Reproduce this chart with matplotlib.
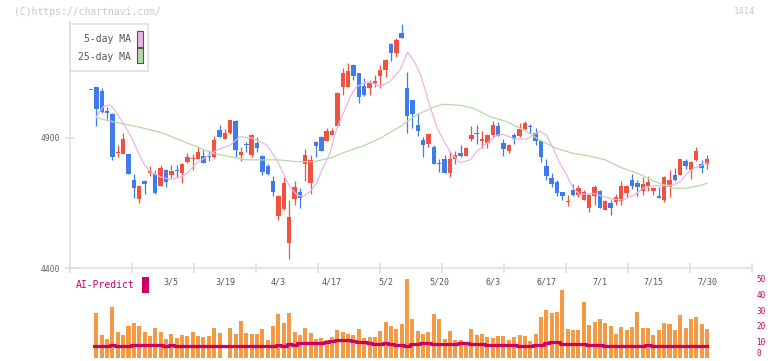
import numpy as np
import matplotlib
matplotlib.use("Agg")
import matplotlib.pyplot as plt
import matplotlib.transforms as mtransforms
from matplotlib.patches import Rectangle

W, H = 772, 361

# daily prices, oldest first (bar 0 is the lone dash at the left)
opens = [5084, 5098, 5082, 5004, 4992, 4842, 4840, 4837, 4739, 4666,
         4735, 4764, 4762, 4717, 4777, 4758, 4775, 4766, 4808, 4820,
         4821, 4831, 4829, 4825, 4931, 4898, 4921, 4966, 4835, 4878,
         4836, 4882, 4832, 4792, 4735, 4601, 4627, 4498, 4667, 4691,
         4801, 4728, 4885, 4903, 4890, 4912, 4948, 5098, 5098, 5181,
         5149, 5100, 5094, 5113, 5140, 5162, 5262, 5228, 5303, 5091,
         5046, 4950, 4892, 4878, 4867, 4803, 4819, 4767, 4818, 4842,
         4832, 4896, 4917, 4887, 4880, 4912, 4946, 4881, 4851, 4912,
         4907, 4935, 4946, 4918, 4889, 4792, 4745, 4730, 4692, 4655,
         4700, 4681, 4662, 4632, 4678, 4696, 4625, 4650, 4654, 4658,
         4690, 4739, 4728, 4696, 4716, 4696, 4677, 4662, 4712, 4758,
         4758, 4812, 4777, 4816, 4800, 4800]
highs = [5084, 5098, 5092, 5018, 4995, 4873, 4921, 4840, 4762, 4716,
         4739, 4792, 4777, 4795, 4780, 4798, 4798, 4802, 4841, 4837,
         4867, 4853, 4853, 4908, 4949, 4936, 4971, 4968, 4866, 4885,
         4914, 4905, 4836, 4800, 4754, 4680, 4751, 4662, 4735, 4707,
         4858, 4835, 4887, 4909, 4939, 4939, 5078, 5168, 5187, 5183,
         5151, 5131, 5123, 5142, 5181, 5202, 5264, 5284, 5339, 5155,
         5048, 4998, 4905, 4921, 4873, 4819, 4835, 4850, 4850, 4872,
         4866, 4946, 4950, 4927, 4914, 4966, 4962, 4896, 4875, 4918,
         4958, 4966, 4954, 4937, 4891, 4819, 4767, 4739, 4694, 4681,
         4723, 4719, 4700, 4683, 4719, 4700, 4660, 4662, 4684, 4735,
         4718, 4763, 4739, 4749, 4754, 4710, 4712, 4753, 4777, 4785,
         4821, 4819, 4810, 4867, 4816, 4835]
lows = [5084, 4948, 4995, 4972, 4816, 4828, 4838, 4760, 4671, 4651,
        4686, 4754, 4686, 4715, 4713, 4745, 4750, 4728, 4805, 4777,
        4819, 4803, 4813, 4823, 4903, 4896, 4916, 4827, 4813, 4848,
        4828, 4848, 4759, 4759, 4678, 4586, 4623, 4436, 4641, 4632,
        4735, 4686, 4825, 4849, 4888, 4910, 4946, 5064, 5096, 5123,
        5034, 5063, 5066, 5098, 5091, 5136, 5198, 5213, 5284, 4919,
        4940, 4909, 4825, 4867, 4799, 4771, 4765, 4751, 4800, 4828,
        4830, 4890, 4878, 4860, 4860, 4905, 4907, 4832, 4844, 4878,
        4905, 4931, 4921, 4873, 4809, 4739, 4713, 4677, 4662, 4640,
        4678, 4672, 4660, 4616, 4642, 4630, 4623, 4605, 4642, 4642,
        4675, 4704, 4677, 4681, 4696, 4681, 4669, 4654, 4675, 4735,
        4756, 4781, 4744, 4812, 4766, 4781]
closes = [5084, 5012, 5000, 4998, 4825, 4844, 4898, 4763, 4707, 4716,
          4722, 4773, 4689, 4785, 4732, 4773, 4772, 4800, 4827, 4824,
          4846, 4805, 4826, 4892, 4905, 4918, 4969, 4853, 4846, 4874,
          4912, 4863, 4771, 4763, 4694, 4677, 4727, 4596, 4710, 4671,
          4835, 4816, 4869, 4851, 4925, 4927, 5073, 5150, 5158, 5140,
          5059, 5066, 5113, 5119, 5162, 5200, 5228, 5277, 5286, 4986,
          4992, 4925, 4873, 4916, 4801, 4800, 4767, 4819, 4835, 4832,
          4863, 4912, 4914, 4898, 4912, 4950, 4909, 4857, 4873, 4898,
          4935, 4958, 4943, 4890, 4825, 4755, 4723, 4690, 4677, 4657,
          4681, 4708, 4692, 4681, 4712, 4632, 4658, 4632, 4672, 4716,
          4716, 4716, 4713, 4723, 4731, 4708, 4671, 4751, 4739, 4739,
          4819, 4792, 4808, 4850, 4785, 4819]

volume = [0, 28.3, 14.5, 11.7, 32.1, 16.1, 14.5, 20.1, 21.8, 20.1,
          16.1, 13.8, 18.7, 15.9, 11.7, 14.7, 12.6, 14.3, 13.8, 16.1,
          13.6, 13.0, 13.6, 18.7, 15.5, 0, 18.7, 14.9, 23.1, 15.5,
          14.9, 14.9, 18.0, 11.1, 19.9, 27.5, 21.8, 28.1, 16.1, 14.5,
          18.7, 15.5, 11.7, 12.4, 11.1, 13.0, 17.6, 16.1, 15.1, 14.5,
          18.0, 12.4, 13.0, 13.0, 16.8, 22.4, 19.9, 18.0, 21.2, 49.5,
          24.3, 16.8, 14.9, 16.1, 27.5, 24.3, 11.7, 16.8, 11.1, 11.1,
          9.8, 18.0, 14.3, 14.9, 13.0, 12.4, 13.6, 13.6, 11.1, 13.2,
          14.3, 13.6, 10.5, 14.9, 25.6, 30.0, 28.1, 28.7, 42.6, 18.0,
          17.4, 17.4, 35.0, 20.6, 22.4, 24.3, 21.8, 19.9, 14.9, 19.3,
          17.4, 19.3, 28.7, 18.7, 18.7, 14.3, 17.4, 21.8, 21.2, 17.4,
          26.9, 18.7, 24.3, 25.6, 21.2, 18.0]

ai_predict = [np.nan, 7.1, 7.1, 7.1, 7.7, 7.1, 7.1, 7.1, 8.0, 7.7,
              7.7, 7.7, 7.7, 7.7, 7.1, 7.7, 7.1, 7.1, 7.1, 7.1,
              7.1, 7.1, 7.1, 7.1, 7.1, 7.1, 7.1, 7.1, 7.1, 7.1,
              7.1, 7.1, 7.1, 7.1, 7.1, 7.7, 7.1, 8.4, 7.7, 9.2,
              9.2, 9.2, 9.2, 9.2, 9.8, 10.5, 11.1, 11.1, 11.1, 10.5,
              9.8, 9.8, 9.2, 8.6, 8.6, 9.2, 8.6, 7.7, 7.7, 7.1,
              8.4, 8.4, 9.0, 9.0, 8.4, 8.6, 8.6, 8.6, 8.6, 9.2,
              9.2, 8.4, 8.4, 8.4, 7.7, 7.7, 7.7, 7.7, 7.7, 7.7,
              7.1, 7.1, 7.1, 7.7, 7.7, 9.0, 9.8, 9.8, 8.6, 8.6,
              8.6, 8.6, 8.6, 7.7, 7.7, 7.7, 7.1, 7.1, 7.1, 7.1,
              7.1, 7.1, 7.1, 7.1, 7.7, 7.1, 7.1, 7.1, 7.1, 7.1,
              7.1, 7.1, 7.1, 7.1, 7.1, 7.1]

# moving averages (bar position, price)
ma5_pos = [1, 2.3, 3.5, 4.2, 6, 7.3, 8.5, 9.8, 11, 12.9, 14.7, 16.6, 17.9,
           19.7, 21.6, 23.5, 26, 27.8, 30.3, 32.8, 34.7, 35.9, 37.1, 38.4,
           39.6, 40.9, 42.1, 43.4, 44.6, 45.8, 47.1, 48.4, 49.6, 51.5, 52.7,
           54, 55.8, 57.7, 59.1, 60.2, 61.4, 62.4, 63.3, 64.5, 65.8, 67, 68.9,
           70.8, 72, 73.9, 75.9, 77, 78.3, 79.5, 81.4, 82.6, 83.8, 85, 86.3,
           87.5, 88.8, 90, 91.2, 92.5, 93.8, 95.6, 97.5, 99.4, 101.4, 103.2,
           105, 106.9, 108.7, 110, 111.2, 112.5, 113.7, 115]
ma5 = [4982, 5021, 5027, 5014, 4957, 4912, 4860, 4803, 4771, 4751, 4741,
       4749, 4764, 4803, 4828, 4854, 4873, 4905, 4899, 4873, 4816, 4764,
       4713, 4681, 4675, 4694, 4726, 4790, 4841, 4931, 4995, 5059, 5098,
       5117, 5110, 5098, 5117, 5162, 5230, 5200, 5149, 5085, 5021, 4944,
       4892, 4848, 4805, 4816, 4848, 4880, 4912, 4914, 4903, 4896, 4896,
       4912, 4925, 4912, 4860, 4803, 4758, 4707, 4684, 4684, 4687, 4675,
       4664, 4662, 4681, 4709, 4717, 4717, 4719, 4732, 4762, 4784, 4792,
       4803]
ma25_pos = [1, 4, 7, 10, 13.5, 16.6, 19.7, 22.8, 26, 29, 32, 35, 38.4, 41.5,
            44.6, 47.7, 50.8, 54, 57.7, 60.8, 63.9, 65.8, 68.9, 71.4, 74.5,
            77.6, 80.7, 83.8, 86.9, 90, 93, 96, 99, 102.5, 105.6, 108.7,
            111.2, 113.7, 115]
ma25 = [4978, 4963, 4950, 4937, 4918, 4892, 4867, 4841, 4828, 4816, 4816,
        4816, 4809, 4809, 4822, 4848, 4869, 4899, 4944, 4989, 5018, 5030,
        5026, 5014, 4982, 4963, 4931, 4892, 4860, 4841, 4831, 4816, 4786,
        4760, 4730, 4707, 4707, 4717, 4726]

date_labels = ["3/5", "3/19", "4/3", "4/17", "5/2", "5/20",
               "6/3", "6/17", "7/1", "7/15", "7/30"]
first_label_bar = 15
label_step = 10

RED = "#F05240"
BLUE = "#3F7CEB"
ORANGE = "#F29A45"
MAGENTA = "#CC0066"
PINK = "#E9B5E9"
GREEN = "#B5DBA5"
GRID = "#E0E0E0"

plt.rcParams["font.family"] = "DejaVu Sans Mono"


def fx(px):
    return px / W


def fy(py):
    return 1 - py / H


fig = plt.figure(figsize=(W / 100, H / 100), dpi=100)

# price panel
ax = fig.add_axes([fx(70), fy(268), 682 / W, (268 - 22) / H])
x = np.arange(len(closes))
o = np.array(opens)
c = np.array(closes)
up = c >= o
cols = np.where(up, RED, BLUE)

ax.vlines(x, lows, highs, colors=cols, lw=0.9)
body_lo = np.minimum(o, c)
body_h = np.maximum(np.abs(c - o), 4)
ax.bar(x, body_h, bottom=body_lo, width=0.82, color=cols, linewidth=0)

ax.plot(ma25_pos, ma25, color=GREEN, lw=0.9)
ax.plot(ma5_pos, ma5, color=PINK, lw=0.9)

xmin, xmax = -3.92, 123.4
ax.set_xlim(xmin, xmax)
ax.set_ylim(4400, 4400 + (268 - 22) / 0.26)
ax.set_yticks([4400, 4900])
ax.set_xticks(np.linspace(xmin, xmax, 12))
ax.set_xticklabels([])
for s in ["top", "right"]:
    ax.spines[s].set_visible(False)
for s in ["bottom", "left"]:
    ax.spines[s].set_color(GRID)
    ax.spines[s].set_linewidth(1.2)
ax.tick_params(axis="x", direction="inout", length=7, width=1.2, color=GRID)
ax.tick_params(axis="y", direction="inout", length=7, width=1.2, color=GRID,
               labelsize=5.8, labelcolor="#666666", pad=3.5)

# volume panel
axv = fig.add_axes([fx(70), 0, 682 / W, (H - 268) / H], sharex=ax)
axv.bar(x, volume, width=0.75, color=ORANGE, linewidth=0)
axv.step(x, ai_predict, where="mid", color=MAGENTA, lw=2.3)
axv.set_ylim(-(361 - 357.7) / 1.588, (357.7 - 268) / 1.588)
axv.set_yticks([0, 10, 20, 30, 40, 50])
axv.yaxis.tick_right()
axv.tick_params(axis="y", length=0, labelsize=5.5, labelcolor=MAGENTA, pad=3)
axv.tick_params(axis="x", length=0, labelbottom=False)
for s in axv.spines.values():
    s.set_visible(False)
axv.patch.set_alpha(0)
# keep the "0" inside the picture
axv.get_yticklabels()[0].set_va("bottom")

trans = mtransforms.blended_transform_factory(axv.transData, axv.transAxes)
for k, lab in enumerate(date_labels):
    axv.text(first_label_bar + k * label_step, (361 - 282) / 93, lab,
             transform=trans, ha="center", va="center", fontsize=6,
             color="#555555")

# legend box
fig.patches.append(Rectangle((fx(70), fy(71)), 78 / W, 47 / H,
                             transform=fig.transFigure, fill=False,
                             edgecolor=GRID, lw=1.2))
fig.text(fx(131), fy(39.5), "5-day MA", ha="right", va="center",
         fontsize=7, color="#555555")
fig.text(fx(131), fy(56.5), "25-day MA", ha="right", va="center",
         fontsize=7, color="#555555")
fig.patches.append(Rectangle((fx(136.5), fy(46.5)), 6 / W, 15 / H,
                             transform=fig.transFigure, facecolor=PINK,
                             edgecolor="#555555", lw=0.8))
fig.patches.append(Rectangle((fx(136.5), fy(63.3)), 6 / W, 15 / H,
                             transform=fig.transFigure, facecolor=GREEN,
                             edgecolor="#555555", lw=0.8))

# AI-Predict tag
fig.text(fx(75.5), fy(285.5), "AI-Predict", ha="left", va="center",
         fontsize=7, color=MAGENTA)
fig.patches.append(Rectangle((fx(142), fy(293)), 7 / W, 16 / H,
                             transform=fig.transFigure, facecolor=MAGENTA,
                             edgecolor="none"))

fig.text(fx(14), fy(12), "(C)https://chartnavi.com/", ha="left",
         va="center", fontsize=7, color="#C8C8C8")
fig.text(fx(755), fy(12), "1414", ha="right", va="center", fontsize=6.5,
         color="#C8C8C8")

fig.savefig("out.png", dpi=100)
